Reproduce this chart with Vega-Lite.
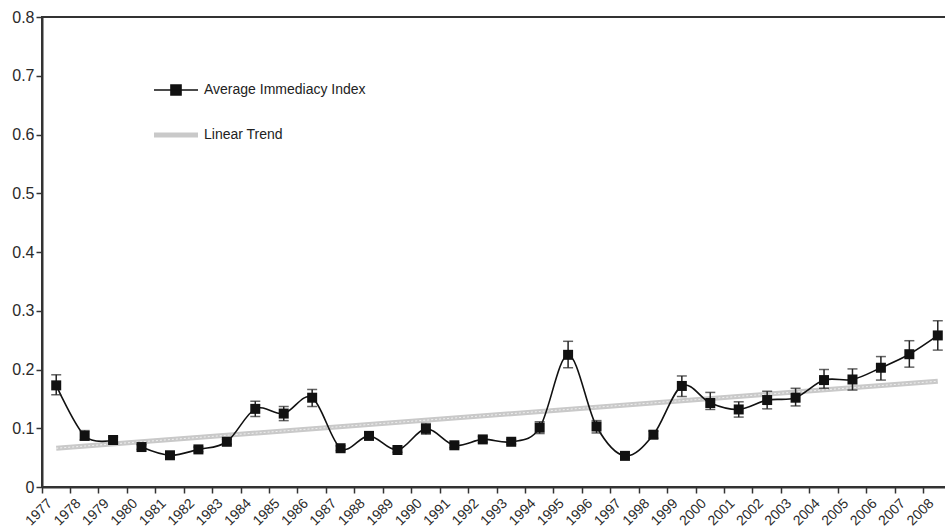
{
  "$schema": "https://vega.github.io/schema/vega-lite/v6.json",
  "width": 910,
  "height": 470,
  "autosize": {"type": "none"},
  "padding": {"left": 42, "top": 17, "right": -7, "bottom": 41},
  "background": "white",
  "config": {
    "font": "Liberation Sans",
    "view": {"stroke": "#333", "strokeWidth": 2},
    "axis": {
      "grid": false,
      "title": null,
      "domainColor": "#333",
      "domainWidth": 2,
      "tickColor": "#333",
      "tickWidth": 1.5,
      "tickSize": 6,
      "labelColor": "#2a2a2a",
      "labelFont": "Liberation Sans"
    }
  },
  "datasets": {
    "immediacy": [
      {"year": "1977", "value": 0.173, "lo": 0.157, "hi": 0.191, "seg": 1},
      {"year": "1978", "value": 0.087, "lo": 0.080, "hi": 0.096, "seg": 1},
      {"year": "1979", "value": 0.080, "lo": 0.075, "hi": 0.085, "seg": 1},
      {"year": "1980", "value": 0.068, "lo": 0.064, "hi": 0.072, "seg": 2},
      {"year": "1981", "value": 0.054, "lo": 0.050, "hi": 0.058, "seg": 2},
      {"year": "1982", "value": 0.064, "lo": 0.060, "hi": 0.068, "seg": 2},
      {"year": "1983", "value": 0.077, "lo": 0.073, "hi": 0.081, "seg": 2},
      {"year": "1984", "value": 0.133, "lo": 0.120, "hi": 0.146, "seg": 2},
      {"year": "1985", "value": 0.125, "lo": 0.113, "hi": 0.137, "seg": 2},
      {"year": "1986", "value": 0.152, "lo": 0.137, "hi": 0.166, "seg": 2},
      {"year": "1987", "value": 0.066, "lo": 0.062, "hi": 0.070, "seg": 2},
      {"year": "1988", "value": 0.087, "lo": 0.081, "hi": 0.093, "seg": 2},
      {"year": "1989", "value": 0.063, "lo": 0.059, "hi": 0.067, "seg": 2},
      {"year": "1990", "value": 0.099, "lo": 0.090, "hi": 0.108, "seg": 2},
      {"year": "1991", "value": 0.071, "lo": 0.067, "hi": 0.075, "seg": 2},
      {"year": "1992", "value": 0.081, "lo": 0.076, "hi": 0.086, "seg": 2},
      {"year": "1993", "value": 0.077, "lo": 0.073, "hi": 0.081, "seg": 2},
      {"year": "1994", "value": 0.101, "lo": 0.091, "hi": 0.111, "seg": 2},
      {"year": "1995", "value": 0.225, "lo": 0.203, "hi": 0.248, "seg": 2},
      {"year": "1996", "value": 0.103, "lo": 0.092, "hi": 0.113, "seg": 2},
      {"year": "1997", "value": 0.053, "lo": 0.049, "hi": 0.057, "seg": 2},
      {"year": "1998", "value": 0.089, "lo": 0.083, "hi": 0.095, "seg": 2},
      {"year": "1999", "value": 0.172, "lo": 0.154, "hi": 0.189, "seg": 2},
      {"year": "2000", "value": 0.143, "lo": 0.132, "hi": 0.161, "seg": 2},
      {"year": "2001", "value": 0.132, "lo": 0.119, "hi": 0.145, "seg": 2},
      {"year": "2002", "value": 0.148, "lo": 0.133, "hi": 0.163, "seg": 2},
      {"year": "2003", "value": 0.152, "lo": 0.138, "hi": 0.168, "seg": 2},
      {"year": "2004", "value": 0.182, "lo": 0.168, "hi": 0.200, "seg": 2},
      {"year": "2005", "value": 0.183, "lo": 0.165, "hi": 0.201, "seg": 2},
      {"year": "2006", "value": 0.203, "lo": 0.182, "hi": 0.222, "seg": 2},
      {"year": "2007", "value": 0.226, "lo": 0.204, "hi": 0.249, "seg": 2},
      {"year": "2008", "value": 0.258, "lo": 0.233, "hi": 0.283, "seg": 2}
    ],
    "trend": [
      {"year": "1977", "value": 0.066},
      {"year": "2008", "value": 0.180}
    ]
  },
  "encoding": {
    "x": {
      "field": "year",
      "type": "ordinal",
      "scale": {"type": "band", "paddingInner": 0, "paddingOuter": 0},
      "axis": {
        "bandPosition": 0,
        "labelAngle": -45,
        "labelAlign": "right",
        "labelBaseline": "top",
        "labelFontSize": 14,
        "labelPadding": 3,
        "labelOffset": -11,
        "labelBound": false,
        "labelOverlap": false
      }
    }
  },
  "layer": [
    {
      "data": {"name": "trend"},
      "mark": {"type": "line", "strokeWidth": 5, "strokeCap": "butt"},
      "encoding": {
        "y": {
          "field": "value",
          "type": "quantitative",
          "scale": {"domain": [0, 0.8], "nice": false, "zero": true},
          "axis": {
            "values": [0, 0.1, 0.2, 0.3, 0.4, 0.5, 0.6, 0.7, 0.8],
            "format": ".1~f",
            "labelFontSize": 16,
            "labelPadding": 2
          }
        },
        "color": {
          "datum": "Linear Trend",
          "scale": {
            "domain": ["Average Immediacy Index", "Linear Trend"],
            "range": ["#111111", "#c9c9c9"]
          },
          "legend": {
            "orient": "none",
            "legendX": 127,
            "legendY": 66,
            "title": null,
            "labelFontSize": 14,
            "labelColor": "#222",
            "labelOffset": 21,
            "labelLimit": 400,
            "symbolSize": 1936,
            "symbolStrokeWidth": 1.5,
            "rowPadding": 26,
            "encode": {
              "symbols": {
                "update": {
                  "shape": {"signal": "datum.value === 'Average Immediacy Index' ? 'M-1,0H1M-0.23,-0.23H0.23V0.23H-0.23Z' : 'M-1,0H1'"},
                  "strokeWidth": {"signal": "datum.value === 'Linear Trend' ? 5 : 1.5"},
                  "fill": {"value": "#111111"}
                }
              }
            }
          }
        }
      }
    },
    {
      "data": {"name": "trend"},
      "mark": {"type": "line", "strokeWidth": 1, "color": "#ffffff", "strokeDash": [2, 2], "opacity": 0.7},
      "encoding": {
        "y": {"field": "value", "type": "quantitative"}
      }
    },
    {
      "data": {"name": "immediacy"},
      "mark": {"type": "line", "interpolate": "cardinal", "strokeWidth": 1.6},
      "encoding": {
        "y": {"field": "value", "type": "quantitative"},
        "detail": {"field": "seg", "type": "nominal"},
        "color": {"datum": "Average Immediacy Index"}
      }
    },
    {
      "data": {"name": "immediacy"},
      "mark": {"type": "rule", "color": "#222", "strokeWidth": 1.5},
      "encoding": {
        "y": {"field": "lo", "type": "quantitative"},
        "y2": {"field": "hi"}
      }
    },
    {
      "data": {"name": "immediacy"},
      "mark": {"type": "tick", "orient": "horizontal", "color": "#222", "size": 10, "thickness": 1.5},
      "encoding": {
        "y": {"field": "lo", "type": "quantitative"}
      }
    },
    {
      "data": {"name": "immediacy"},
      "mark": {"type": "tick", "orient": "horizontal", "color": "#222", "size": 10, "thickness": 1.5},
      "encoding": {
        "y": {"field": "hi", "type": "quantitative"}
      }
    },
    {
      "data": {"name": "immediacy"},
      "mark": {"type": "square", "size": 100, "filled": true, "color": "#111111", "opacity": 1},
      "encoding": {
        "y": {"field": "value", "type": "quantitative"}
      }
    }
  ]
}
